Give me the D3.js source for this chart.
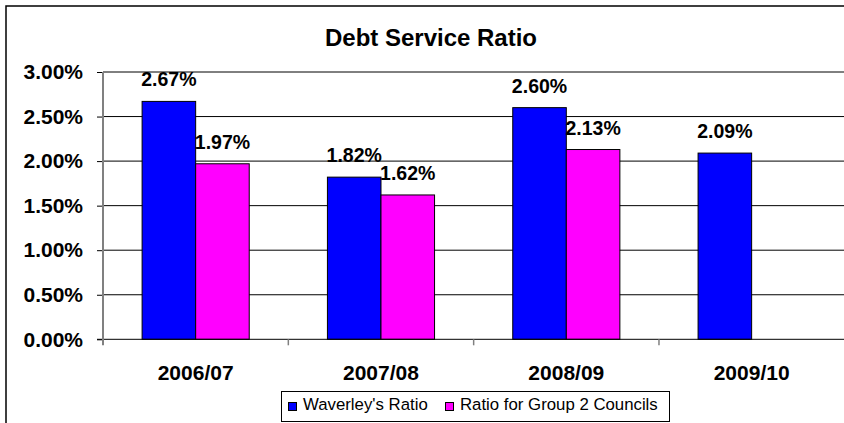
<!DOCTYPE html>
<html>
<head>
<meta charset="utf-8">
<script src="https://cdn.jsdelivr.net/npm/d3@7"></script>
<style>
  body { margin: 0; background: #fff; }
  svg { display: block; font-family: "Liberation Sans", Arial, sans-serif; }
</style>
</head>
<body>
<div id="chart"></div>
<script>
// chart values
var years = ["2006/07", "2007/08", "2008/09", "2009/10"];
var seriesNames = ["Waverley's Ratio", "Ratio for Group 2 Councils"];
var waverley = [0.0267, 0.0182, 0.0260, 0.0209];
var group2 = [0.0197, 0.0162, 0.0213, null];
var yTicks = [0, 0.005, 0.01, 0.015, 0.02, 0.025, 0.03];
var colors = ["#0000ff", "#ff00ff"];

var width = 844, height = 423;

var svg = d3.select("#chart").append("svg")
  .attr("width", width)
  .attr("height", height);

// outer chart border (runs off the right / bottom of the picture)
svg.append("rect")
  .attr("x", 6).attr("y", 6)
  .attr("width", 900).attr("height", 500)
  .attr("fill", "#fff")
  .attr("stroke", "#000")
  .attr("stroke-width", 1.5);

svg.append("text")
  .attr("x", 431).attr("y", 46)
  .attr("text-anchor", "middle")
  .attr("font-size", 24)
  .attr("font-weight", "bold")
  .text("Debt Service Ratio");

var x0 = d3.scaleBand()
  .domain(years)
  .range([103, 844.3])
  .padding(0);

var x1 = d3.scaleBand()
  .domain(seriesNames)
  .range([0, x0.bandwidth()])
  .paddingInner(0)
  .paddingOuter(0.73);

var y = d3.scaleLinear()
  .domain([0, 0.03])
  .range([339.3, 72]);

// gridlines + y ticks
var yAxis = svg.append("g")
  .attr("transform", "translate(103,0)")
  .call(d3.axisLeft(y)
    .tickValues(yTicks)
    .tickFormat(d3.format(".2%"))
    .tickSize(6)
    .tickPadding(14));
yAxis.select(".domain").remove();
yAxis.selectAll(".tick line").attr("stroke", "#000");
yAxis.selectAll(".tick text")
  .attr("font-size", 21)
  .attr("font-weight", "bold")
  .attr("font-family", "'Liberation Sans', Arial, sans-serif")
  .attr("fill", "#000");

svg.append("g")
  .selectAll("line")
  .data(yTicks.slice(1))
  .enter()
  .append("line")
  .attr("x1", 103).attr("x2", width)
  .attr("y1", d => y(d)).attr("y2", d => y(d))
  .attr("stroke", "#000")
  .attr("stroke-width", 1);

// bars
var rows = years.map(function(yr, i) {
  return { year: yr, values: [waverley[i], group2[i]] };
});

var groups = svg.append("g")
  .selectAll("g")
  .data(rows)
  .enter()
  .append("g")
  .attr("transform", d => "translate(" + x0(d.year) + ",0)");

var cells = groups.selectAll("g")
  .data(d => d.values.map((v, j) => ({ name: seriesNames[j], value: v, idx: j })).filter(c => c.value != null))
  .enter()
  .append("g");

cells.append("rect")
  .attr("x", d => x1(d.name))
  .attr("y", d => y(d.value))
  .attr("width", x1.bandwidth())
  .attr("height", d => y(0) - y(d.value))
  .attr("fill", d => colors[d.idx])
  .attr("stroke", "#000")
  .attr("stroke-width", 1);

cells.append("text")
  .attr("x", d => x1(d.name) + x1.bandwidth() / 2)
  .attr("y", d => y(d.value) - 15)
  .attr("text-anchor", "middle")
  .attr("font-size", 19.5)
  .attr("font-weight", "bold")
  .text(d => d3.format(".2%")(d.value));

// x axis
svg.append("line")
  .attr("x1", 97).attr("x2", width)
  .attr("y1", y(0)).attr("y2", y(0))
  .attr("stroke", "#000");

svg.append("line")
  .attr("x1", 103).attr("x2", 103)
  .attr("y1", y(0.03)).attr("y2", y(0) + 6)
  .attr("stroke", "#808080")
  .attr("stroke-width", 2);

svg.append("g")
  .selectAll("line")
  .data(years.slice(1))
  .enter()
  .append("line")
  .attr("x1", d => x0(d)).attr("x2", d => x0(d))
  .attr("y1", y(0)).attr("y2", y(0) + 6)
  .attr("stroke", "#808080")
  .attr("stroke-width", 1.5);

svg.append("g")
  .selectAll("text")
  .data(years)
  .enter()
  .append("text")
  .attr("x", d => x0(d) + x0.bandwidth() / 2)
  .attr("y", 380)
  .attr("text-anchor", "middle")
  .attr("font-size", 21)
  .attr("font-weight", "bold")
  .text(d => d);

// legend
var legend = svg.append("g");
legend.append("rect")
  .attr("x", 281.5).attr("y", 391.5)
  .attr("width", 388).attr("height", 30)
  .attr("fill", "#fff")
  .attr("stroke", "#000");

var legendX = [288, 445];
var items = legend.selectAll("g")
  .data(seriesNames)
  .enter()
  .append("g")
  .attr("transform", (d, i) => "translate(" + legendX[i] + ",0)");

items.append("rect")
  .attr("x", 0.5).attr("y", 402.5)
  .attr("width", 8).attr("height", 8)
  .attr("fill", (d, i) => colors[i])
  .attr("stroke", "#000");

items.append("text")
  .attr("x", 15).attr("y", 410)
  .attr("font-size", 16.8)
  .text(d => d);
</script>
</body>
</html>
